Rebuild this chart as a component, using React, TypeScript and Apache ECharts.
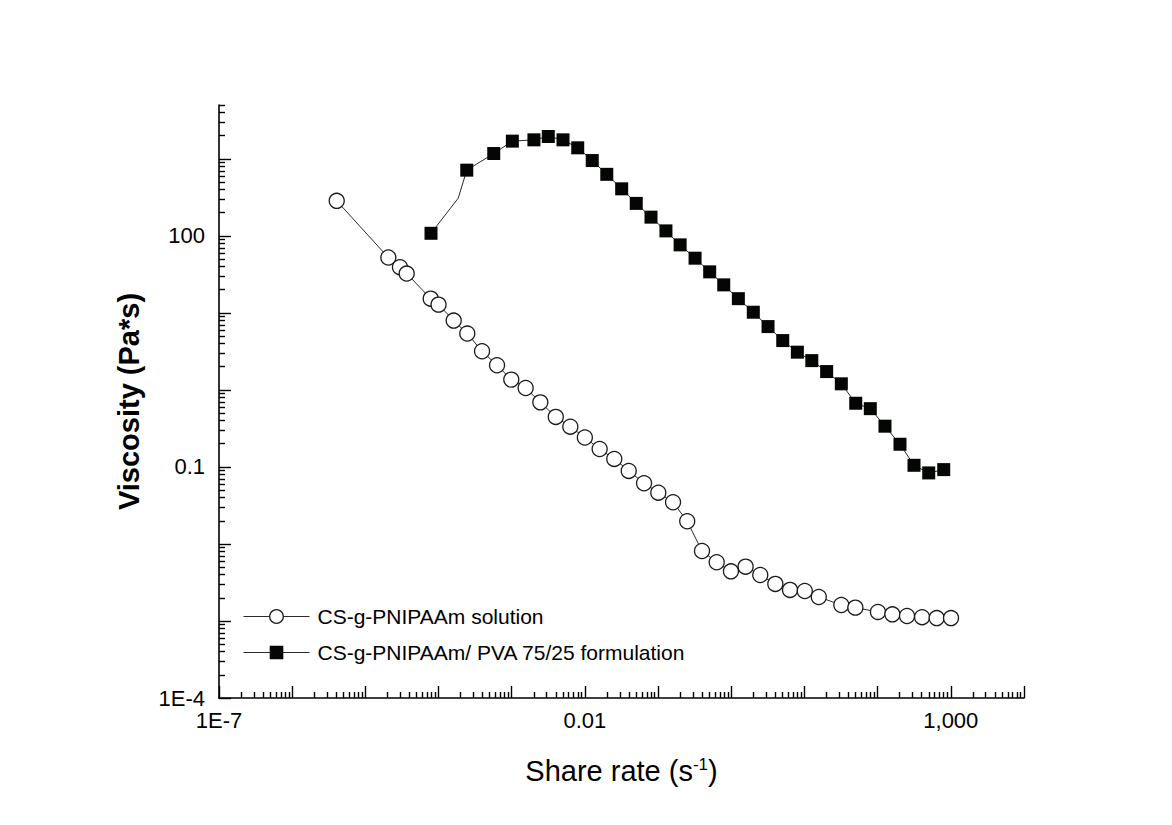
import React, { useEffect, useRef } from "react";
import * as echarts from "echarts";

// ---- data ----
const solutionName = "CS-g-PNIPAAm solution";
const solutionRate = [
  4.06e-6, 2.06e-5, 2.97e-5, 3.67e-5, 7.82e-5, 1e-4, 1.61e-4, 2.47e-4, 3.93e-4, 6.3e-4,
  9.86e-4, 1.55e-3, 2.46e-3, 4.0e-3, 6.32e-3, 9.98e-3, 0.0159, 0.0252, 0.0397, 0.0643,
  0.1007, 0.16, 0.25, 0.398, 0.632, 0.99, 1.57, 2.49, 4.0, 6.35,
  10.1, 15.7, 31.9, 49.6, 101, 159, 252, 405, 641, 1007,
];
const solutionViscosity = [
  285, 52.3, 39.2, 32.4, 15.3, 12.8, 7.94, 5.39, 3.18, 2.09,
  1.36, 1.06, 0.689, 0.446, 0.333, 0.241, 0.171, 0.127, 0.0887, 0.0614,
  0.0463, 0.0348, 0.0197, 0.0081, 0.00578, 0.00441, 0.00507, 0.00395, 0.00303, 0.00253,
  0.00245, 0.00205, 0.00161, 0.00149, 0.00131, 0.00122, 0.00116, 0.00112, 0.00109, 0.00109,
];

const blendName = "CS-g-PNIPAAm/ PVA 75/25 formulation";
const blendRate = [
  7.89e-5, 1.86e-4, 2.43e-4, 5.68e-4, 1.02e-3, 2.01e-3, 3.16e-3, 5.02e-3, 7.98e-3, 0.0126,
  0.0199, 0.0318, 0.0503, 0.08, 0.128, 0.2, 0.32, 0.507, 0.789, 1.25,
  2.0, 3.18, 5.05, 8.0, 12.6, 20.1, 31.9, 50.2, 79.4, 126,
  202, 314, 499, 800,
];
const blendViscosity = [
  108, 309, 713, 1172, 1698, 1765, 1950, 1765, 1390, 950,
  629, 408, 264, 175, 116, 76.4, 51.3, 34.1, 23.1, 15.3,
  10.2, 6.64, 4.37, 3.09, 2.4, 1.73, 1.2, 0.671, 0.571, 0.338,
  0.197, 0.105, 0.0836, 0.0923,
];
// index of the curve's bend point that carries no marker
const blendUnmarkedIndex = 1;

// ---- axes ----
const xMin = 1e-7;
const xMax = 1e4;
const yMin = 1e-4;
const yMax = 5000;
const xMajorTicks = [1e-7, 1e-6, 1e-5, 1e-4, 1e-3, 1e-2, 1e-1, 1, 10, 100, 1000, 10000];
const yMajorTicks = [1e-4, 1e-3, 1e-2, 1e-1, 1, 10, 100, 1000];
const xLabelValues = [1e-7, 0.01, 1000];
const xLabelTexts = ["1E-7", "0.01", "1,000"];
const yLabelValues = [1e-4, 0.1, 100];
const yLabelTexts = ["1E-4", "0.1", "100"];
const minorMultipliers = [2, 3, 4, 5, 6, 7, 8, 9];

const xTitle = "Share rate (s{sup|-1})";
const yTitle = "Viscosity (Pa*s)";

const FONT = "'Liberation Sans', Arial, Helvetica, sans-serif";

function minorTicks(majors: number[], max: number): number[] {
  const out: number[] = [];
  majors.forEach((m) => {
    minorMultipliers.forEach((k) => {
      const v = parseFloat((m * k).toPrecision(6));
      if (v <= max * (1 + 1e-9)) out.push(v);
    });
  });
  return out;
}

function labelFor(values: number[], texts: string[]) {
  return (v: number) => {
    for (let i = 0; i < values.length; i++) {
      if (Math.abs(Math.log10(v) - Math.log10(values[i])) < 1e-6) return texts[i];
    }
    return "";
  };
}

export default function App() {
  const ref = useRef<HTMLDivElement>(null);

  useEffect(() => {
    if (!ref.current) return;
    const chart = echarts.init(ref.current, undefined, { renderer: "svg" });

    const axisLineStyle = { color: "#000", width: 1.6 };
    const tickLineStyle = { color: "#000", width: 1.4 };

    const baseX = {
      type: "log" as const,
      logBase: 10,
      min: xMin,
      max: xMax,
      gridIndex: 0,
      position: "bottom" as const,
      splitLine: { show: false },
      minorTick: { show: false },
    };
    const baseY = {
      type: "log" as const,
      logBase: 10,
      min: yMin,
      max: yMax,
      gridIndex: 0,
      position: "left" as const,
      splitLine: { show: false },
      minorTick: { show: false },
    };

    const option: any = {
      animation: false,
      backgroundColor: "#ffffff",
      textStyle: { fontFamily: FONT, color: "#000" },
      grid: {
        left: 219,
        right: 148,
        top: 105,
        bottom: 127,
        containLabel: false,
        outerBoundsMode: "none",
      },
      legend: {
        orient: "vertical",
        left: 238,
        top: 601,
        itemWidth: 66,
        itemHeight: 17,
        itemGap: 15,
        textStyle: { fontSize: 21, color: "#000", fontFamily: FONT, padding: [0, 0, 0, 3] },
        lineStyle: { width: 1 },
        data: [
          { name: solutionName, itemStyle: { borderWidth: 1.3 } },
          { name: blendName, itemStyle: { borderWidth: 0 } },
        ],
      },
      xAxis: [
        {
          ...baseX,
          name: xTitle,
          nameLocation: "middle",
          nameGap: 58,
          nameTextStyle: {
            fontSize: 29,
            color: "#000",
            fontFamily: FONT,
            rich: {
              sup: { fontSize: 17, fontFamily: FONT, color: "#000", verticalAlign: "top" },
            },
          },
          axisLine: { show: true, lineStyle: axisLineStyle },
          axisTick: {
            show: true,
            inside: true,
            length: 12,
            lineStyle: tickLineStyle,
            customValues: xMajorTicks,
          },
          axisLabel: {
            show: true,
            fontSize: 22,
            color: "#000",
            fontFamily: FONT,
            margin: 11,
            customValues: xLabelValues,
            formatter: labelFor(xLabelValues, xLabelTexts),
          },
        },
        {
          ...baseX,
          axisLine: { show: false },
          axisTick: {
            show: true,
            inside: true,
            length: 6,
            lineStyle: tickLineStyle,
            customValues: minorTicks(xMajorTicks, xMax),
          },
          axisLabel: { show: false },
        },
      ],
      yAxis: [
        {
          ...baseY,
          name: yTitle,
          nameLocation: "middle",
          nameGap: 76,
          nameTextStyle: {
            fontSize: 29,
            fontWeight: "bold",
            color: "#000",
            fontFamily: FONT,
          },
          axisLine: { show: true, lineStyle: axisLineStyle },
          axisTick: {
            show: true,
            inside: true,
            length: 12,
            lineStyle: tickLineStyle,
            customValues: yMajorTicks,
          },
          axisLabel: {
            show: true,
            fontSize: 22,
            color: "#000",
            fontFamily: FONT,
            margin: 14,
            customValues: yLabelValues,
            formatter: labelFor(yLabelValues, yLabelTexts),
          },
        },
        {
          ...baseY,
          axisLine: { show: false },
          axisTick: {
            show: true,
            inside: true,
            length: 6,
            lineStyle: tickLineStyle,
            customValues: minorTicks(yMajorTicks, yMax),
          },
          axisLabel: { show: false },
        },
      ],
      series: [
        {
          name: solutionName,
          type: "line",
          xAxisIndex: 0,
          yAxisIndex: 0,
          data: solutionRate.map((x, i) => [x, solutionViscosity[i]]),
          symbol: "circle",
          symbolSize: 15,
          showAllSymbol: true,
          itemStyle: { color: "#ffffff", borderColor: "#1a1a1a", borderWidth: 1.3 },
          lineStyle: { color: "#2a2a2a", width: 1 },
          z: 3,
        },
        {
          name: blendName,
          type: "line",
          xAxisIndex: 0,
          yAxisIndex: 0,
          data: blendRate.map((x, i) =>
            i === blendUnmarkedIndex
              ? { value: [x, blendViscosity[i]], symbol: "none" }
              : [x, blendViscosity[i]]
          ),
          symbol: "rect",
          symbolSize: 13,
          showAllSymbol: true,
          itemStyle: { color: "#030603", borderColor: "#030603", borderWidth: 0 },
          lineStyle: { color: "#2a2a2a", width: 1 },
          z: 4,
        },
      ],
    };

    chart.setOption(option);
    return () => {
      chart.dispose();
    };
  }, []);

  return (
    <div
      ref={ref}
      style={{ position: "absolute", left: 0, top: 0, width: 1172, height: 825 }}
    />
  );
}
